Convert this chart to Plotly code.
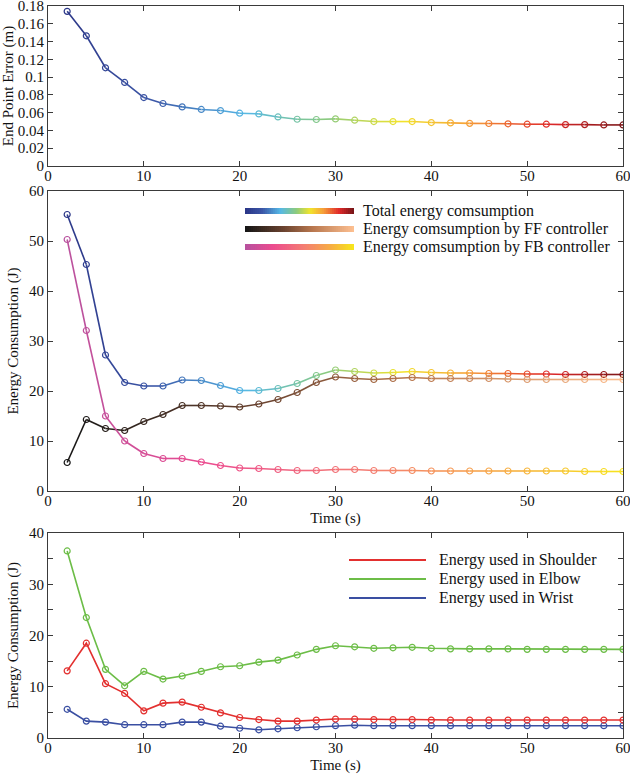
import plotly.graph_objects as go
from plotly.colors import sample_colorscale

# ---------------- data ----------------
time_s = list(range(2, 61, 2))
x_ticks = [0, 10, 20, 30, 40, 50, 60]

end_point_error = [0.174, 0.1465, 0.1105, 0.094, 0.077, 0.0703, 0.0665, 0.0636, 0.0624, 0.0594,
                   0.0586, 0.0552, 0.0526, 0.0523, 0.053, 0.0515, 0.050, 0.050, 0.050, 0.0489,
                   0.0485, 0.048, 0.0478, 0.0475, 0.047, 0.047, 0.0466, 0.0466, 0.0462, 0.0462]

total_energy = [55.3, 45.3, 27.2, 21.7, 21.0, 21.0, 22.2, 22.1, 21.1, 20.1,
                20.1, 20.5, 21.5, 23.1, 24.2, 23.9, 23.6, 23.7, 23.9, 23.7,
                23.6, 23.6, 23.5, 23.5, 23.4, 23.4, 23.3, 23.3, 23.3, 23.3]
ff_energy = [5.7, 14.3, 12.5, 12.1, 13.9, 15.3, 17.1, 17.1, 17.0, 16.8,
             17.4, 18.3, 19.7, 21.7, 22.8, 22.5, 22.3, 22.5, 22.7, 22.5,
             22.5, 22.5, 22.5, 22.4, 22.3, 22.3, 22.3, 22.3, 22.3, 22.3]
fb_energy = [50.3, 32.1, 15.0, 10.0, 7.5, 6.5, 6.5, 5.8, 5.1, 4.6,
             4.5, 4.3, 4.1, 4.1, 4.3, 4.3, 4.1, 4.1, 4.1, 4.0,
             4.0, 4.0, 4.0, 4.0, 4.0, 4.0, 4.0, 3.9, 3.9, 3.9]

shoulder_energy = [13.1, 18.5, 10.6, 8.7, 5.3, 6.8, 7.0, 6.0, 4.9, 4.0,
                   3.6, 3.3, 3.3, 3.5, 3.7, 3.7, 3.6, 3.6, 3.6, 3.5,
                   3.5, 3.5, 3.5, 3.5, 3.5, 3.5, 3.5, 3.5, 3.5, 3.5]
elbow_energy = [36.5, 23.5, 13.4, 10.2, 13.0, 11.5, 12.1, 13.0, 13.9, 14.1,
                14.8, 15.2, 16.2, 17.3, 18.0, 17.8, 17.5, 17.6, 17.7, 17.5,
                17.4, 17.4, 17.4, 17.4, 17.3, 17.3, 17.3, 17.3, 17.3, 17.3]
wrist_energy = [5.6, 3.3, 3.1, 2.6, 2.6, 2.6, 3.1, 3.1, 2.3, 1.9,
                1.6, 1.8, 2.0, 2.2, 2.4, 2.5, 2.4, 2.4, 2.4, 2.4,
                2.4, 2.4, 2.4, 2.4, 2.4, 2.4, 2.4, 2.4, 2.4, 2.4]

legend_mid = ["Total energy comsumption",
              "Energy comsumption by FF controller",
              "Energy comsumption by FB controller"]
legend_bot = ["Energy used in Shoulder", "Energy used in Elbow", "Energy used in Wrist"]

# ---------------- styles ----------------
FONT = "Liberation Serif"
AX = "#3a3a3a"
total_cs = [[0, '#2b3788'], [0.15, '#3b55a6'], [0.32, '#55b8e6'], [0.47, '#8ccb7e'],
            [0.6, '#f2e42c'], [0.72, '#f6a03a'], [0.87, '#e02a2a'], [1, '#7a1518']]
ff_cs = [[0, '#161616'], [0.35, '#6a4330'], [0.62, '#b8774e'], [1, '#fcbf90']]
fb_cs = [[0, '#b8519e'], [0.25, '#ec4b8f'], [0.55, '#f47f72'], [0.8, '#f7af42'], [1, '#f7e51d']]
RED, GREEN, BLUE = '#e3302f', '#6cbd47', '#3a4fa2'

W, H = 630, 774
L, R = 48, 7
PW = W - L - R


def px_x(p):
    return (p - L) / PW


def px_y(p):
    return 1 - p / H


fig = go.Figure()


def gradient_series(xa, ya, xs, ys, cs):
    n = len(xs)
    cols = sample_colorscale(cs, [i / (n - 1) for i in range(n)])
    segcols = sample_colorscale(cs, [(i + 0.5) / (n - 1) for i in range(n - 1)])
    for i in range(n - 1):
        fig.add_trace(go.Scatter(x=xs[i:i + 2], y=ys[i:i + 2], mode="lines",
                                 line=dict(color=segcols[i], width=1.6),
                                 xaxis=xa, yaxis=ya, showlegend=False, hoverinfo="skip"))
    fig.add_trace(go.Scatter(x=xs, y=ys, mode="markers",
                             marker=dict(symbol="circle-open", size=6, color=cols,
                                         line=dict(width=1.2, color=cols)),
                             xaxis=xa, yaxis=ya, showlegend=False))


gradient_series("x", "y", time_s, end_point_error, total_cs)
gradient_series("x2", "y2", time_s, total_energy, total_cs)
gradient_series("x2", "y2", time_s, ff_energy, ff_cs)
gradient_series("x2", "y2", time_s, fb_energy, fb_cs)

for name, vals, col in [(legend_bot[2], wrist_energy, BLUE),
                        (legend_bot[0], shoulder_energy, RED),
                        (legend_bot[1], elbow_energy, GREEN)]:
    fig.add_trace(go.Scatter(x=time_s, y=vals, mode="lines+markers", name=name,
                             line=dict(color=col, width=1.6),
                             marker=dict(symbol="circle-open", size=6, color=col,
                                         line=dict(width=1.2, color=col)),
                             xaxis="x3", yaxis="y3", showlegend=False))

# ---------------- legends (drawn) ----------------
shapes = []
annotations = []
bx0, bx1 = px_x(245), px_x(354)
nseg = 55
seg = (bx1 - bx0) / nseg
for cs, yc, txt in [(total_cs, 211, legend_mid[0]), (ff_cs, 229, legend_mid[1]), (fb_cs, 247, legend_mid[2])]:
    cols = sample_colorscale(cs, [k / (nseg - 1) for k in range(nseg)])
    for k in range(nseg):
        shapes.append(dict(type="rect", xref="paper", yref="paper", layer="above",
                           x0=bx0 + seg * k, x1=min(bx1, bx0 + seg * (k + 1) + seg * 0.8),
                           y0=px_y(yc + 3), y1=px_y(yc - 3),
                           fillcolor=cols[k], line=dict(width=0)))
    annotations.append(dict(xref="paper", yref="paper", x=px_x(361), y=px_y(yc), text=txt,
                            showarrow=False, xanchor="left", yanchor="middle",
                            font=dict(family=FONT, size=16, color="#111")))

for col, yc, txt in [(RED, 560, legend_bot[0]), (GREEN, 579, legend_bot[1]), (BLUE, 598, legend_bot[2])]:
    shapes.append(dict(type="line", xref="paper", yref="paper", x0=px_x(349), x1=px_x(426),
                       y0=px_y(yc), y1=px_y(yc), line=dict(color=col, width=2)))
    annotations.append(dict(xref="paper", yref="paper", x=px_x(437), y=px_y(yc), text=txt,
                            showarrow=False, xanchor="left", yanchor="middle",
                            font=dict(family=FONT, size=16, color="#111")))

# ---------------- axes ----------------
def xax(domain_anchor, title=None):
    d = dict(range=[0, 60], tickvals=x_ticks, ticks="inside", ticklen=5, tickcolor=AX,
             showline=True, linecolor=AX, linewidth=1, mirror="ticks", showgrid=False,
             zeroline=False, anchor=domain_anchor, ticklabeloverflow="allow", automargin=False,
             ticklabelstandoff=-4,
             tickfont=dict(family=FONT, size=15, color="#111"), domain=[0, 1])
    if title:
        d["title"] = dict(text=title, font=dict(family=FONT, size=15, color="#111"), standoff=4)
    return d


def yax(rng, dtick, dom, title, anchor, minor=None):
    d = dict(range=rng, dtick=dtick, tick0=0, ticks="inside", ticklen=5, tickcolor=AX,
             showline=True, linecolor=AX, linewidth=1, mirror="ticks", showgrid=False,
             zeroline=False, anchor=anchor, domain=dom, ticklabeloverflow="allow", automargin=False,
             tickfont=dict(family=FONT, size=15, color="#111"),
             title=dict(text=title, font=dict(family=FONT, size=15, color="#111"), standoff=6))
    if minor:
        d["minor"] = minor
    return d


fig.update_layout(
    width=W, height=H,
    margin=dict(l=L, r=R, t=0, b=0, autoexpand=False),
    paper_bgcolor="white", plot_bgcolor="white",
    showlegend=False,
    xaxis=xax("y"),
    yaxis=yax([0, 0.18], 0.02, [px_y(166), px_y(6)], "End Point Error (m)", "x"),
    xaxis2=xax("y2", "Time (s)"),
    yaxis2=yax([0, 60], 10, [px_y(491), px_y(191)], "Energy Consumption (J)", "x2"),
    xaxis3=xax("y3", "Time (s)"),
    yaxis3=yax([0, 40], 10, [px_y(738), px_y(533)], "Energy Consumption (J)", "x3",
               minor=dict(dtick=5, tick0=0, ticks="inside", ticklen=5, tickcolor=AX)),
    shapes=shapes, annotations=annotations,
)

fig.write_html("out.html", config={"displayModeBar": False},
               post_script="document.body.style.margin='0';document.body.style.overflow='hidden';")
